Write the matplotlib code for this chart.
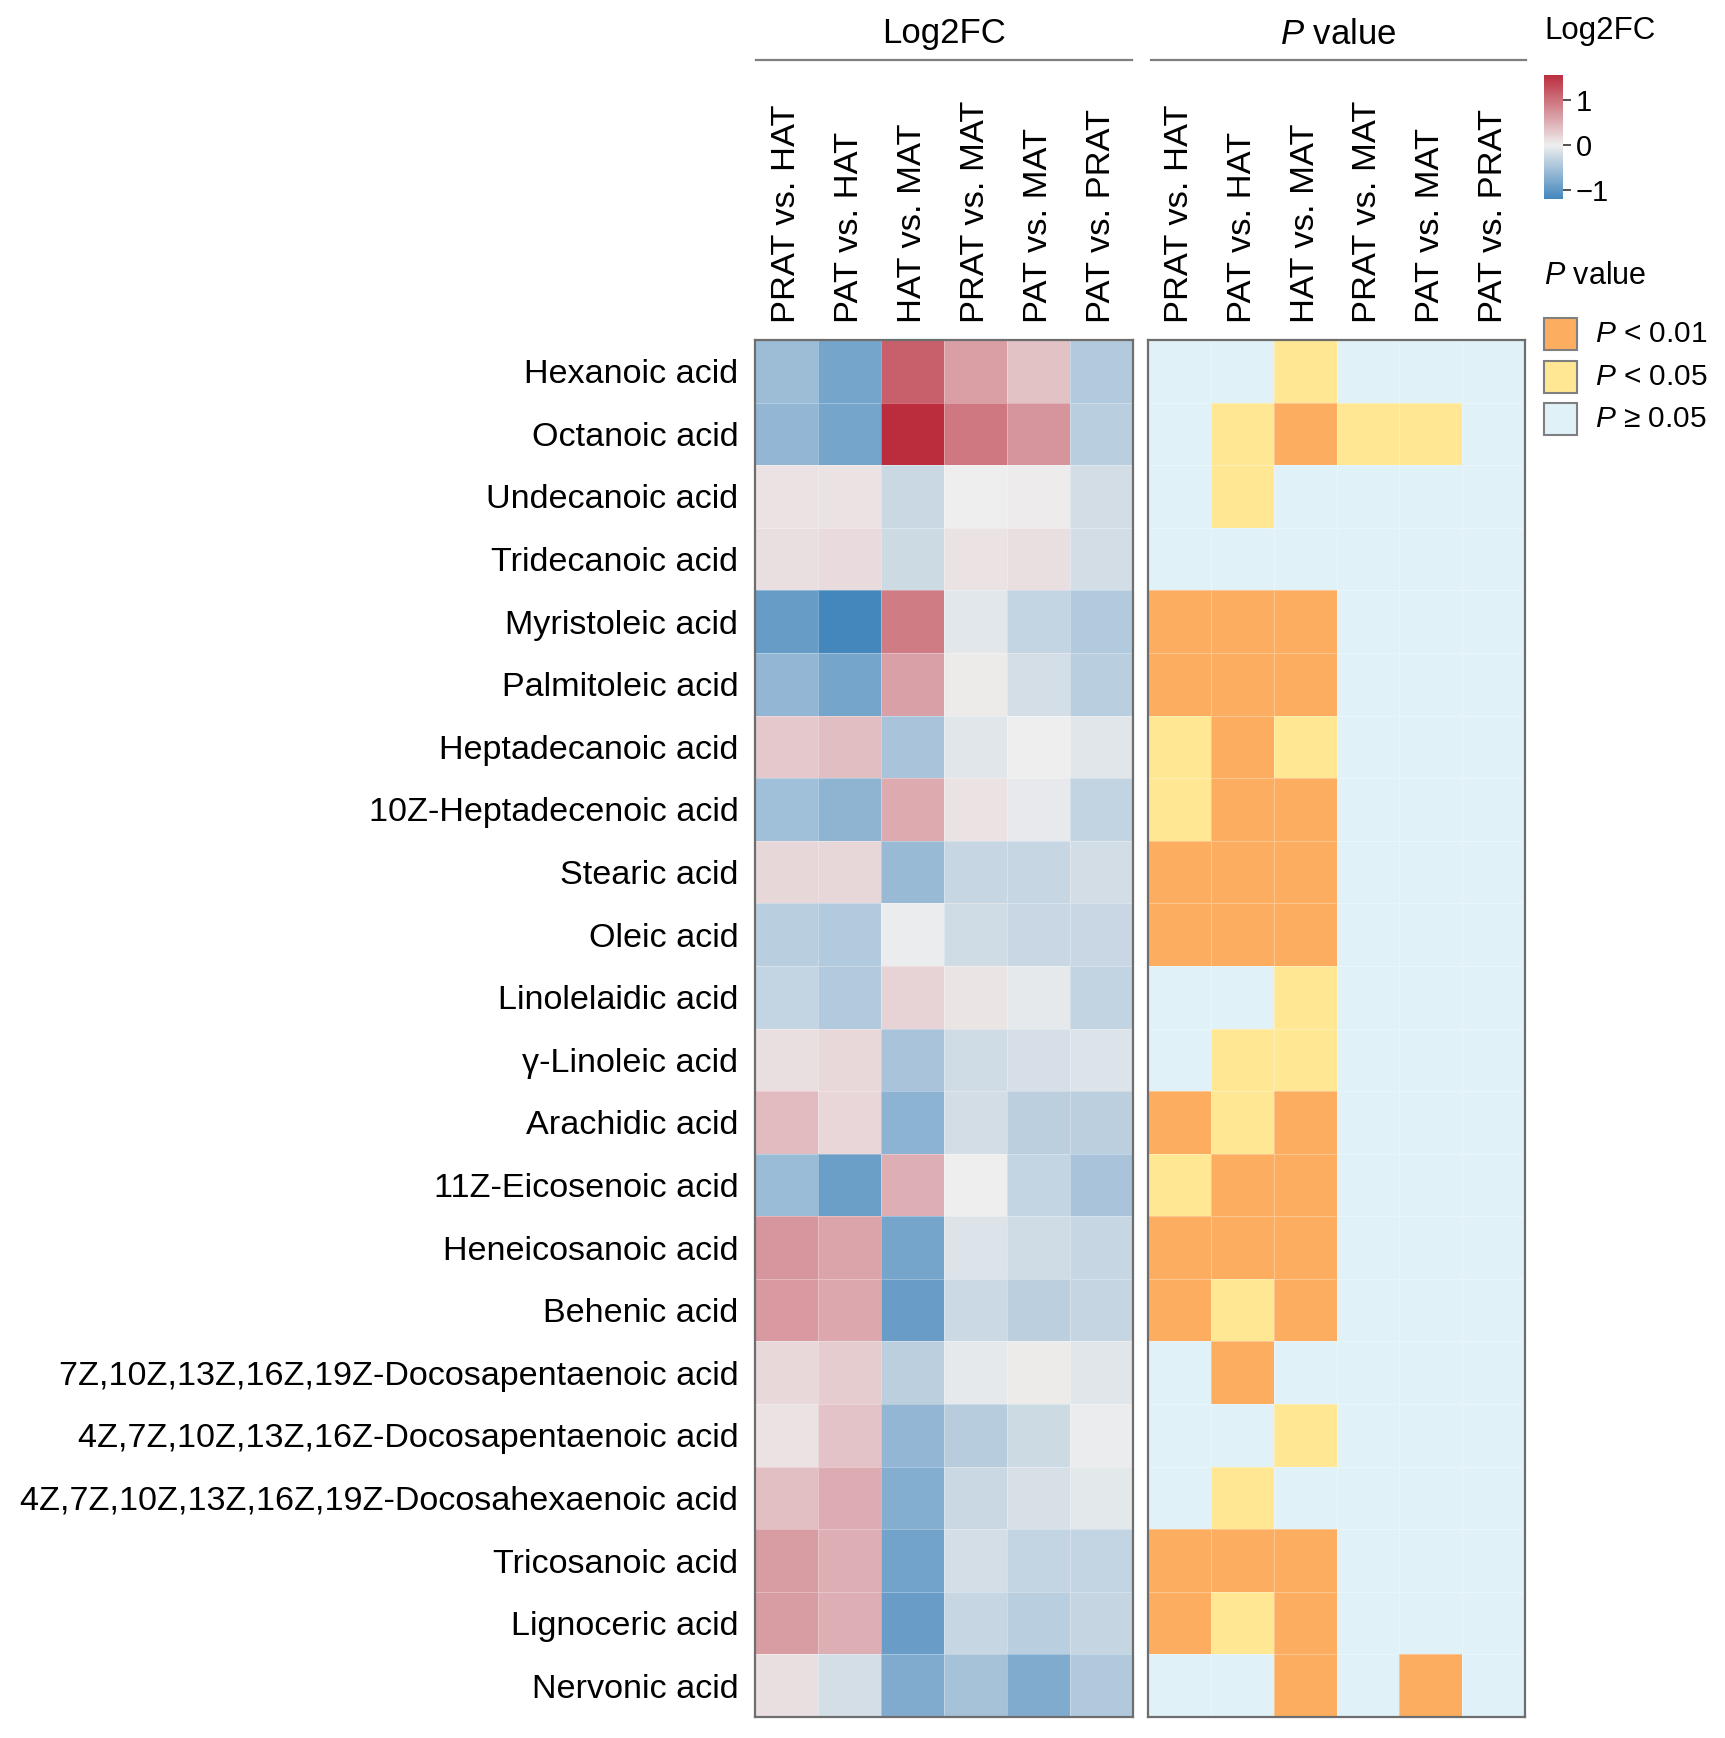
import numpy as np
import matplotlib
matplotlib.use("Agg")
import matplotlib.pyplot as plt
from matplotlib.colors import LinearSegmentedColormap, ListedColormap, Normalize, BoundaryNorm
from matplotlib.cm import ScalarMappable
from matplotlib.patches import Rectangle
from matplotlib.lines import Line2D

plt.rcParams['font.family'] = ['Liberation Sans', 'DejaVu Sans']
plt.rcParams['mathtext.fontset'] = 'custom'
plt.rcParams['mathtext.rm'] = 'Liberation Sans'
plt.rcParams['mathtext.it'] = 'Liberation Sans:italic'

# fatty acids (rows, top to bottom)
acids = [
    "Hexanoic acid", "Octanoic acid", "Undecanoic acid", "Tridecanoic acid",
    "Myristoleic acid", "Palmitoleic acid", "Heptadecanoic acid",
    "10Z-Heptadecenoic acid", "Stearic acid", "Oleic acid",
    "Linolelaidic acid", "\u03b3-Linoleic acid", "Arachidic acid",
    "11Z-Eicosenoic acid", "Heneicosanoic acid", "Behenic acid",
    "7Z,10Z,13Z,16Z,19Z-Docosapentaenoic acid",
    "4Z,7Z,10Z,13Z,16Z-Docosapentaenoic acid",
    "4Z,7Z,10Z,13Z,16Z,19Z-Docosahexaenoic acid",
    "Tricosanoic acid", "Lignoceric acid", "Nervonic acid",
]

comparisons = ["PRAT vs. HAT", "PAT vs. HAT", "HAT vs. MAT",
               "PRAT vs. MAT", "PAT vs. MAT", "PAT vs. PRAT"]

# log2 fold change
log2fc = np.array([
    [-0.57, -0.85,  1.15,  0.64,  0.36, -0.42],
    [-0.65, -0.85,  1.56,  0.95,  0.72, -0.38],
    [ 0.10,  0.10, -0.26,  0.00,  0.02, -0.19],
    [ 0.12,  0.15, -0.23,  0.10,  0.12, -0.19],
    [-0.95, -1.20,  0.92, -0.08, -0.30, -0.42],
    [-0.65, -0.85,  0.63,  0.03, -0.18, -0.38],
    [ 0.30,  0.39, -0.49, -0.10,  0.00, -0.10],
    [-0.55, -0.68,  0.55,  0.10, -0.05, -0.31],
    [ 0.19,  0.19, -0.60, -0.28, -0.28, -0.19],
    [-0.38, -0.42, -0.02, -0.21, -0.27, -0.27],
    [-0.30, -0.42,  0.22,  0.08, -0.06, -0.31],
    [ 0.12,  0.17, -0.49, -0.21, -0.17, -0.13],
    [ 0.41,  0.20, -0.69, -0.19, -0.35, -0.35],
    [-0.58, -0.91,  0.52,  0.00, -0.30, -0.49],
    [ 0.71,  0.60, -0.85, -0.12, -0.21, -0.28],
    [ 0.68,  0.56, -0.94, -0.25, -0.35, -0.29],
    [ 0.17,  0.27, -0.35, -0.06,  0.03, -0.10],
    [ 0.10,  0.35, -0.65, -0.39, -0.23, -0.02],
    [ 0.38,  0.53, -0.74, -0.26, -0.16, -0.07],
    [ 0.66,  0.52, -0.87, -0.18, -0.30, -0.30],
    [ 0.66,  0.52, -0.94, -0.28, -0.38, -0.29],
    [ 0.12, -0.18, -0.77, -0.50, -0.77, -0.43],
])

# significance class: 2 = P < 0.01, 1 = P < 0.05, 0 = P >= 0.05
p_class = np.array([
    [0, 0, 1, 0, 0, 0],
    [0, 1, 2, 1, 1, 0],
    [0, 1, 0, 0, 0, 0],
    [0, 0, 0, 0, 0, 0],
    [2, 2, 2, 0, 0, 0],
    [2, 2, 2, 0, 0, 0],
    [1, 2, 1, 0, 0, 0],
    [1, 2, 2, 0, 0, 0],
    [2, 2, 2, 0, 0, 0],
    [2, 2, 2, 0, 0, 0],
    [0, 0, 1, 0, 0, 0],
    [0, 1, 1, 0, 0, 0],
    [2, 1, 2, 0, 0, 0],
    [1, 2, 2, 0, 0, 0],
    [2, 2, 2, 0, 0, 0],
    [2, 1, 2, 0, 0, 0],
    [0, 2, 0, 0, 0, 0],
    [0, 0, 1, 0, 0, 0],
    [0, 1, 0, 0, 0, 0],
    [2, 2, 2, 0, 0, 0],
    [2, 1, 2, 0, 0, 0],
    [0, 0, 2, 0, 2, 0],
])
p_labels = ["$P$ < 0.01", "$P$ < 0.05", "$P$ \u2265 0.05"]
p_colors = ["#E0F2F8", "#FFE794", "#FDAD5F"]  # class 0, 1, 2

vmin, vmax = -1.2, 1.56
fc_cmap = LinearSegmentedColormap.from_list(
    "fc", [(0, "#4487BD"), (-vmin / (vmax - vmin), "#EEEEEE"), (1, "#BB2D3D")])
fc_norm = Normalize(vmin=vmin, vmax=vmax)
p_cmap = ListedColormap(p_colors)
p_norm = BoundaryNorm([-0.5, 0.5, 1.5, 2.5], 3)

W, H = 1725, 1738
fig = plt.figure(figsize=(W / 100, H / 100), dpi=100)


def px_box(x0, y0, x1, y1):
    return [x0 / W, 1 - y1 / H, (x1 - x0) / W, (y1 - y0) / H]


ax1 = fig.add_axes(px_box(755, 340, 1133, 1717))
ax2 = fig.add_axes(px_box(1148, 340, 1525, 1717))

n_rows, n_cols = log2fc.shape
ax1.pcolormesh(log2fc, cmap=fc_cmap, norm=fc_norm,
               edgecolors=(1, 1, 1, 0.3), linewidth=0.6)
ax2.pcolormesh(p_class, cmap=p_cmap, norm=p_norm,
               edgecolors=(1, 1, 1, 0.3), linewidth=0.6)

for ax in (ax1, ax2):
    ax.set_xlim(0, n_cols)
    ax.set_ylim(n_rows, 0)
    ax.xaxis.tick_top()
    ax.set_xticks(np.arange(n_cols) + 0.5)
    ax.set_xticklabels(comparisons, rotation=90, fontsize=24.8)
    ax.tick_params(axis='both', length=0)
    ax.tick_params(axis='x', pad=12)
    for sp in ax.spines.values():
        sp.set_color("#6E6E6E")
        sp.set_linewidth(1.6)

ax1.set_yticks(np.arange(n_rows) + 0.5)
ax1.set_yticklabels(acids, fontsize=24.6)
ax1.tick_params(axis='y', pad=12)
ax2.set_yticks([])

# column group headers
for (x0, x1), title in [((756, 1132), "Log2FC"), ((1151, 1526), "$P$ value")]:
    fig.add_artist(Line2D([x0 / W, x1 / W], [1 - 60 / H, 1 - 60 / H],
                          color="#7F7F7F", lw=1.6, transform=fig.transFigure))
    fig.text((x0 + x1) / 2 / W, 1 - 34 / H, title, fontsize=25,
             ha='center', va='center')

# Log2FC colour legend
fig.text(1544 / W, 1 - 31 / H, "Log2FC", fontsize=22.5, ha='left', va='center')
cax = fig.add_axes(px_box(1544, 75, 1563, 199))
cb = fig.colorbar(ScalarMappable(norm=fc_norm, cmap=fc_cmap), cax=cax,
                  ticks=[-1, 0, 1])
cb.outline.set_visible(False)
cax.tick_params(labelsize=21, length=6, width=1.2, color="#333333", pad=3)

# P value legend
fig.text(1544 / W, 1 - 276 / H, "$P$ value", fontsize=22, ha='left', va='center')
box_tops = [318, 361, 403]
for top, cls, lab in zip(box_tops, [2, 1, 0], p_labels):
    fig.add_artist(Rectangle((1544 / W, 1 - (top + 32) / H), 33 / W, 32 / H,
                             facecolor=p_colors[cls], edgecolor="#7F7F7F",
                             lw=1.5, transform=fig.transFigure))
    fig.text(1595 / W, 1 - (top + 16) / H, lab, fontsize=21.5,
             ha='left', va='center')

fig.savefig("out.png", dpi=100)
